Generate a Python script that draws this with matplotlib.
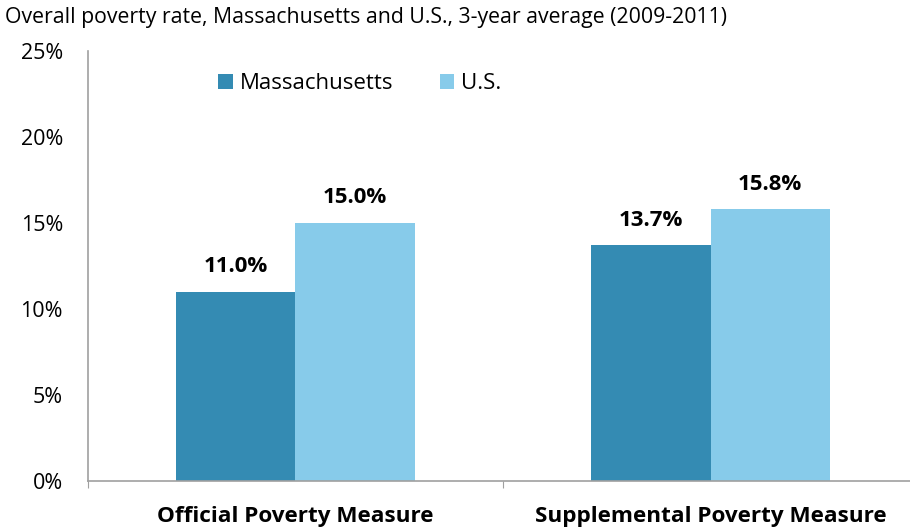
import numpy as np
import matplotlib.pyplot as plt
from matplotlib.ticker import FuncFormatter

plt.rcParams['font.family'] = ['Open Sans', 'DejaVu Sans']

categories = ["Official Poverty Measure", "Supplemental Poverty Measure"]
series_names = ["Massachusetts", "U.S."]
ma_values = [11.0, 13.7]
us_values = [15.0, 15.8]
colors = ["#348bb3", "#87cbea"]

fig = plt.figure(figsize=(9.1, 5.29), dpi=100)
ax = fig.add_axes([0.0967, 0.0907, 0.9121, 0.8129])

x = np.arange(len(categories))
width = 0.287
bars_ma = ax.bar(x - width / 2, ma_values, width, color=colors[0], label=series_names[0])
bars_us = ax.bar(x + width / 2, us_values, width, color=colors[1], label=series_names[1])

for bars, vals in [(bars_ma, ma_values), (bars_us, us_values)]:
    for b, v in zip(bars, vals):
        ax.text(b.get_x() + b.get_width() / 2, v + 0.85, f"{v:.1f}%",
                ha="center", va="bottom", fontsize=16, fontweight="bold")

ax.set_xlim(-0.5, 1.5)
ax.set_ylim(0, 25)
ax.set_yticks(np.arange(0, 26, 5))
ax.yaxis.set_major_formatter(FuncFormatter(lambda v, p: f"{v:.0f}%"))
ax.tick_params(axis="y", length=0, labelsize=15.5, pad=18)

# category labels sit between boundary ticks
ax.set_xticks([-0.5, 0.5, 1.5])
ax.set_xticklabels([])
ax.set_xticks(x, minor=True)
ax.set_xticklabels(categories, minor=True, fontsize=16.2, fontweight="bold")
ax.tick_params(axis="x", which="major", length=5, color="#a0a0a0")
ax.tick_params(axis="x", which="minor", length=0, pad=18)

for side in ["top", "right"]:
    ax.spines[side].set_visible(False)
for side in ["left", "bottom"]:
    ax.spines[side].set_color("#a0a0a0")
    ax.spines[side].set_linewidth(1.2)

ax.legend(loc="upper left", bbox_to_anchor=(0.133, 0.995), ncol=2, frameon=False,
          fontsize=16, handlelength=0.65, handleheight=0.65, handletextpad=0.3,
          columnspacing=2.1)

fig.text(0.005, 0.966, "Overall poverty rate, Massachusetts and U.S., 3-year average (2009-2011)",
         fontsize=15.3, ha="left", va="center")

fig.savefig("out.png", dpi=100)
